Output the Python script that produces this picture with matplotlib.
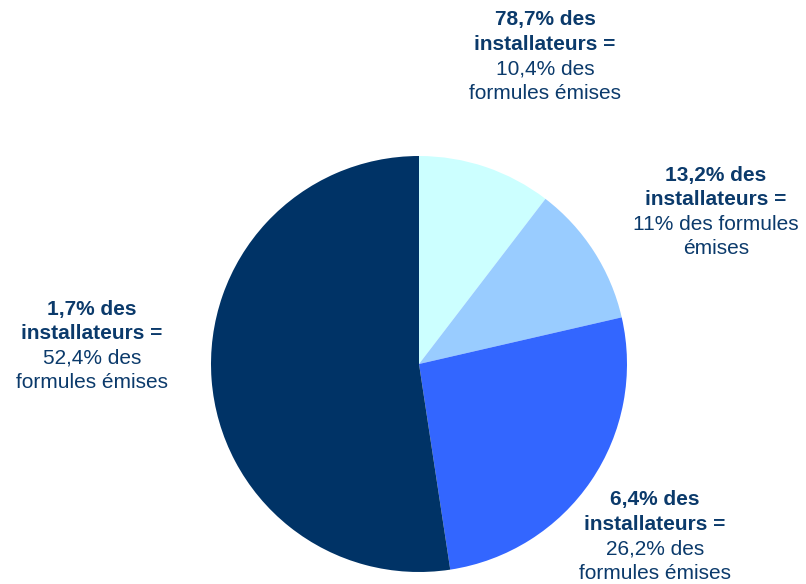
import matplotlib.pyplot as plt

shares = [10.4, 11.0, 26.2, 52.4]
colors = ['#CCFFFF', '#99CCFF', '#3366FF', '#003366']
bold_lines = [['78,7% des', 'installateurs ='],
              ['13,2% des', 'installateurs ='],
              ['6,4% des', 'installateurs ='],
              ['1,7% des', 'installateurs =']]
plain_lines = [['10,4% des', 'formules émises'],
               ['11% des formules', 'émises'],
               ['26,2% des', 'formules émises'],
               ['52,4% des', 'formules émises']]
# label anchor (centre x, first line y) in pixels
label_pos = [(545, 20), (716, 175), (655, 500), (92, 309)]

W, H = 806, 584
fig = plt.figure(figsize=(W / 100, H / 100), dpi=100)
ax = fig.add_axes([0, 0, 1, 1])

ax.pie(shares, colors=colors, startangle=90, counterclock=False,
       center=(419, H - 364), radius=208, frame=True,
       wedgeprops=dict(linewidth=0))
ax.set_xlim(0, W)
ax.set_ylim(0, H)
ax.axis('off')

txt_color = '#0B3A6B'
step = 24.5
for (x, y), bl, pl in zip(label_pos, bold_lines, plain_lines):
    lines = [(t, 'bold') for t in bl] + [(t, 'normal') for t in pl]
    for i, (t, w) in enumerate(lines):
        ax.text(x, H - (y + i * step), t, ha='center', va='center',
                fontsize=15, fontweight=w, color=txt_color,
                family='Liberation Sans')

fig.savefig('out.png', dpi=100)
